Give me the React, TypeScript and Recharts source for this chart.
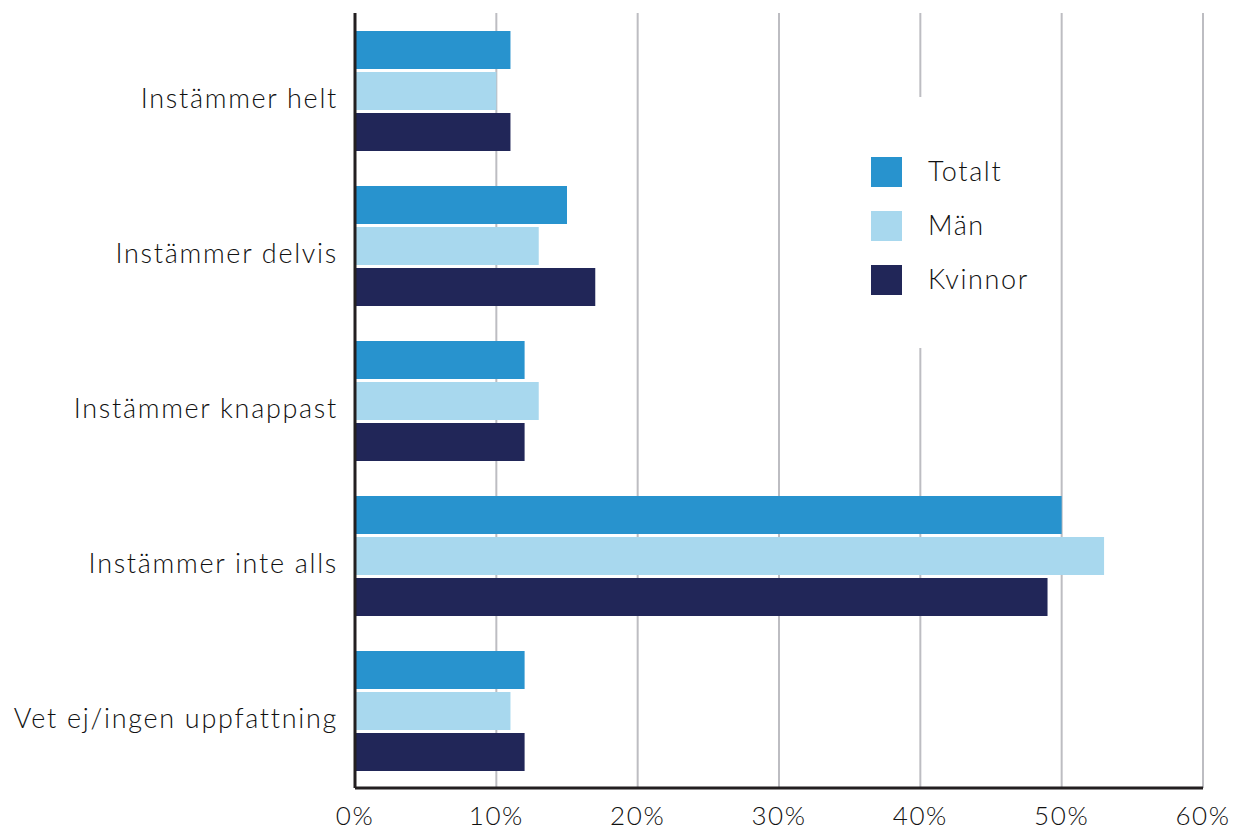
import React from "react";
import {
  Bar,
  BarChart,
  CartesianGrid,
  Legend,
  XAxis,
  YAxis,
} from "recharts";

const categories = [
  "Instämmer helt",
  "Instämmer delvis",
  "Instämmer knappast",
  "Instämmer inte alls",
  "Vet ej/ingen uppfattning",
];
const totalt = [11, 15, 12, 50, 12];
const man = [10, 13, 13, 53, 11];
const kvinnor = [11, 17, 12, 49, 12];
const xTicks = [0, 10, 20, 30, 40, 50, 60];

const series = [
  { key: "totalt", name: "Totalt", color: "#2893ce" },
  { key: "man", name: "Män", color: "#a8d8ee" },
  { key: "kvinnor", name: "Kvinnor", color: "#212658" },
];

const data = categories.map((name, i) => ({
  name,
  totalt: totalt[i],
  man: man[i],
  kvinnor: kvinnor[i],
}));

const font = "Lato, 'Open Sans', sans-serif";
const textColor = "#231f20";
const labelColor = "#111111";

function LegendBox() {
  return (
    <div
      style={{
        background: "#fff",
        width: 190,
        height: 251,
        paddingTop: 60,
        paddingLeft: 21,
        boxSizing: "border-box",
        fontFamily: font,
      }}
    >
      {series.map((s) => (
        <div
          key={s.key}
          style={{ display: "flex", alignItems: "center", height: 30, marginBottom: 24 }}
        >
          <div style={{ width: 31, height: 30, background: s.color }} />
          <span
            style={{
              marginLeft: 26,
              fontSize: 27,
              fontWeight: 300,
              letterSpacing: 1.6,
              color: labelColor,
              position: "relative",
              top: -2,
            }}
          >
            {s.name}
          </span>
        </div>
      ))}
    </div>
  );
}

export default function App() {
  return (
    <div style={{ position: "absolute", left: 0, top: 0, background: "#fff" }}>
      <BarChart
        width={1242}
        height={831}
        data={data}
        layout="vertical"
        margin={{ top: 13, right: 39, bottom: 0, left: 0 }}
        barSize={38}
        barGap={3}
      >
        <CartesianGrid horizontal={false} stroke="#bdbdc2" strokeWidth={2} />
        <XAxis
          type="number"
          domain={[0, 60]}
          ticks={xTicks}
          tickFormatter={(v) => v + "%"}
          tickLine={false}
          tickSize={6}
          tickMargin={13}
          height={43}
          axisLine={{ stroke: textColor, strokeWidth: 3 }}
          tick={{ fontSize: 26, fontWeight: 300, fill: labelColor, fontFamily: font, letterSpacing: 1.6 }}
        />
        <YAxis
          type="category"
          dataKey="name"
          width={355}
          tickLine={false}
          tickSize={6}
          tickMargin={11}
          axisLine={{ stroke: textColor, strokeWidth: 3 }}
          tick={{ fontSize: 27, fontWeight: 300, fill: labelColor, fontFamily: font, dy: 8, letterSpacing: 1.7 }}
        />
        <Legend
          layout="horizontal"
          verticalAlign="middle"
          align="center"
          content={() => <LegendBox />}
          wrapperStyle={{ left: 850, top: 97, width: 190, height: 251 }}
        />
        {series.map((s) => (
          <Bar
            key={s.key}
            dataKey={s.key}
            name={s.name}
            fill={s.color}
            isAnimationActive={false}
          />
        ))}
      </BarChart>
    </div>
  );
}
